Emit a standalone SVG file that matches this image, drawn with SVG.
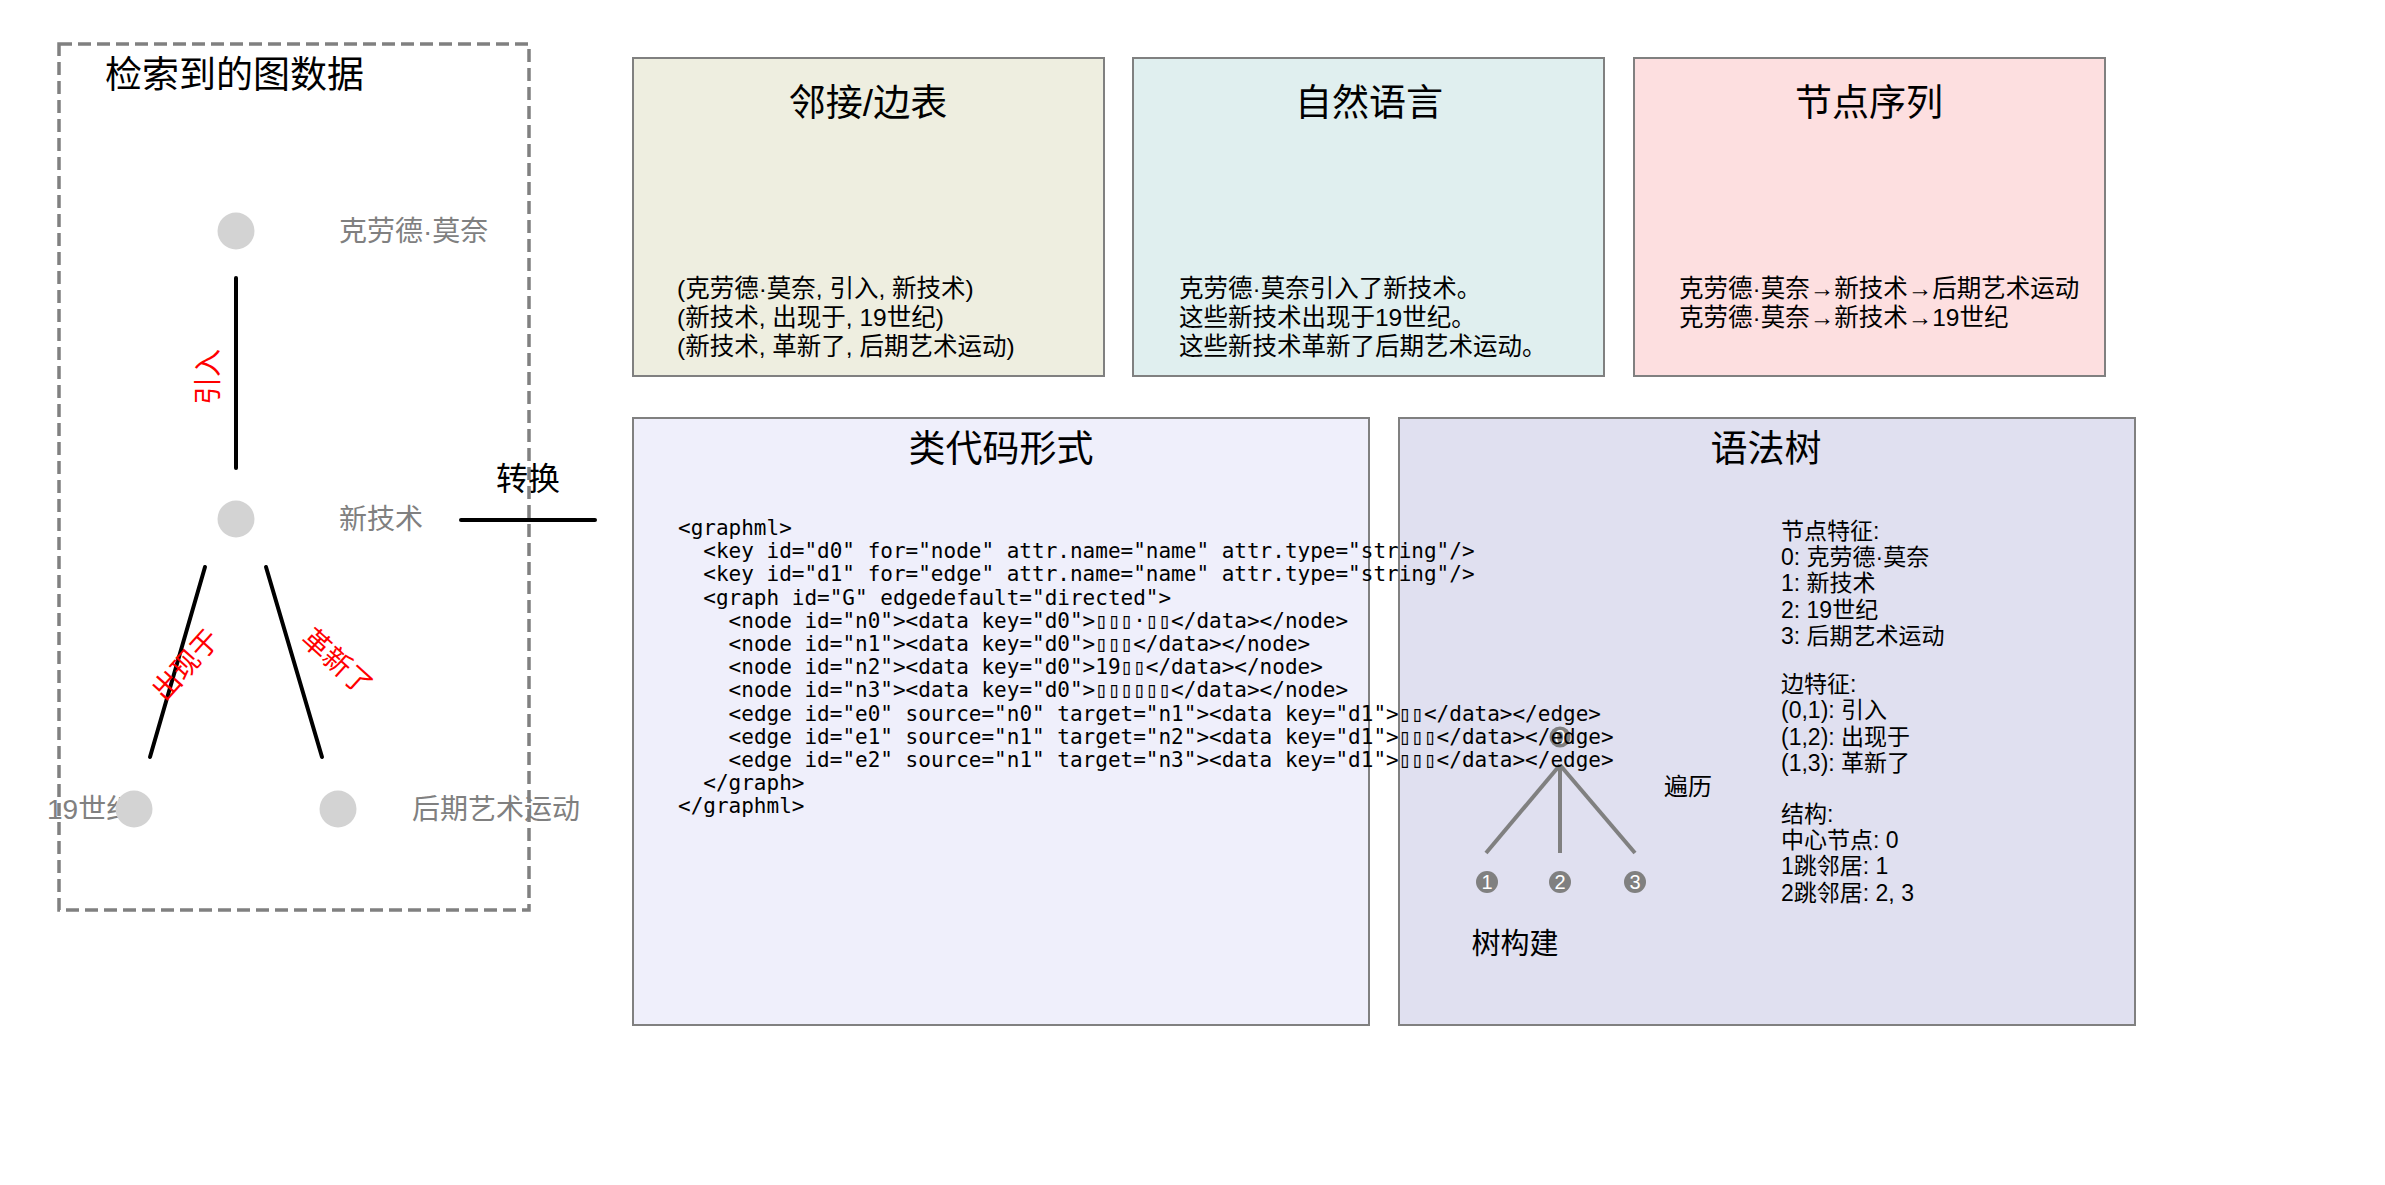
<svg xmlns="http://www.w3.org/2000/svg" width="2385" height="1185" viewBox="0 0 2385 1185">
<style>
.cjk{font-family:"Liberation Sans","Noto Sans CJK SC",sans-serif}
.title{font-size:37px;fill:#000;text-anchor:middle}
.body{font-size:24.5px;fill:#000}
.feat{font-size:23px;fill:#000}
.nlabel{font-size:28px;fill:#808080}
.elabel{font-size:28px;fill:#ff0000;text-anchor:middle;dominant-baseline:central}
.code{font-family:"DejaVu Sans Mono","Liberation Mono",monospace;font-size:21px;fill:#000}
.box{stroke:#808080;stroke-width:2}
.gnode{fill:#d3d3d3}
.edge{stroke:#000;stroke-width:4;stroke-linecap:round;fill:none}
.tedge{stroke:#808080;stroke-width:4;fill:none}
.tnode{fill:#808080}
.tnum{font-family:"Liberation Sans","Noto Sans",sans-serif;font-size:20px;fill:#fff;text-anchor:middle;dominant-baseline:central}
</style>
<rect width="2385" height="1185" fill="#fff"/>

<g id="connectors">
  <line class="edge" x1="236" y1="278" x2="236" y2="468"/>
  <line class="edge" x1="205" y1="567" x2="150" y2="757"/>
  <line class="edge" x1="266" y1="567" x2="322" y2="757"/>
  <line class="edge" x1="461" y1="520" x2="595" y2="520"/>
  <text class="cjk elabel" transform="translate(208,377) rotate(-90)">引入</text>
  <text class="cjk elabel" transform="translate(186,665) rotate(-48)">出现于</text>
  <text class="cjk elabel" transform="translate(337,662) rotate(42)">革新了</text>
  <text class="cjk" x="528" y="490" font-size="32" text-anchor="middle">转换</text>
</g>

<g id="graph-nodes">
  <g id="n-monet">
    <text class="cjk nlabel" x="339" y="241">克劳德·莫奈</text>
    <circle class="gnode" cx="236" cy="231" r="18.5"/>
  </g>
  <g id="n-tech">
    <text class="cjk nlabel" x="339" y="529">新技术</text>
    <circle class="gnode" cx="236" cy="519" r="18.5"/>
  </g>
  <g id="n-19c">
    <text class="cjk nlabel" x="47" y="819">19世纪</text>
    <circle class="gnode" cx="134" cy="809" r="18.5"/>
  </g>
  <g id="n-late">
    <text class="cjk nlabel" x="412" y="819">后期艺术运动</text>
    <circle class="gnode" cx="338" cy="809" r="18.5"/>
  </g>
</g>

<g id="retrieved-panel">
  <rect x="59" y="44" width="470" height="866" fill="none" stroke="#808080" stroke-width="3.5" stroke-dasharray="13 6"/>
  <text class="cjk" x="105" y="88" font-size="37">检索到的图数据</text>
</g>

<g id="box-adjacency">
  <rect class="box" x="633" y="58" width="471" height="318" fill="#EEEEE0"/>
  <text class="cjk title" x="868" y="116">邻接/边表</text>
  <text class="cjk body" x="677" y="297">(克劳德·莫奈, 引入, 新技术)</text>
  <text class="cjk body" x="677" y="326">(新技术, 出现于, 19世纪)</text>
  <text class="cjk body" x="677" y="355">(新技术, 革新了, 后期艺术运动)</text>
</g>

<g id="box-natural">
  <rect class="box" x="1133" y="58" width="471" height="318" fill="#E0EFEF"/>
  <text class="cjk title" x="1369" y="116">自然语言</text>
  <text class="cjk body" x="1179" y="297">克劳德·莫奈引入了新技术。</text>
  <text class="cjk body" x="1179" y="326">这些新技术出现于19世纪。</text>
  <text class="cjk body" x="1179" y="355">这些新技术革新了后期艺术运动。</text>
</g>

<g id="box-sequence">
  <rect class="box" x="1634" y="58" width="471" height="318" fill="#FDDFE0"/>
  <text class="cjk title" x="1869" y="116">节点序列</text>
  <text class="cjk body" x="1679" y="297">克劳德·莫奈→新技术→后期艺术运动</text>
  <text class="cjk body" x="1679" y="326">克劳德·莫奈→新技术→19世纪</text>
</g>

<g id="box-code-bg">
  <rect class="box" x="633" y="418" width="736" height="607" fill="#EFEFFB"/>
  <text class="cjk title" x="1001" y="462">类代码形式</text>
</g>

<g id="box-tree">
  <rect class="box" x="1399" y="418" width="736" height="607" fill="#E0E0F0"/>
  <text class="cjk title" x="1766" y="462">语法树</text>
  <g id="tree-edges">
    <line class="tedge" x1="1560" y1="765" x2="1486" y2="853"/>
    <line class="tedge" x1="1560" y1="765" x2="1560" y2="853"/>
    <line class="tedge" x1="1560" y1="765" x2="1635" y2="853"/>
  </g>
  <g id="t0"><circle class="tnode" cx="1560" cy="737" r="10.5"/><text class="tnum" x="1560" y="737">0</text></g>
  <g id="t1"><circle class="tnode" cx="1487" cy="882" r="11"/><text class="tnum" x="1487" y="882">1</text></g>
  <g id="t2"><circle class="tnode" cx="1560" cy="882" r="11"/><text class="tnum" x="1560" y="882">2</text></g>
  <g id="t3"><circle class="tnode" cx="1635" cy="882" r="11"/><text class="tnum" x="1635" y="882">3</text></g>
  <text class="cjk" x="1688" y="795" font-size="24" text-anchor="middle">遍历</text>
  <text class="cjk" x="1515" y="954" font-size="29" text-anchor="middle">树构建</text>
  <text class="cjk feat" x="1781" y="539">节点特征:</text>
  <text class="cjk feat" x="1781" y="565">0: 克劳德·莫奈</text>
  <text class="cjk feat" x="1781" y="591">1: 新技术</text>
  <text class="cjk feat" x="1781" y="618">2: 19世纪</text>
  <text class="cjk feat" x="1781" y="644">3: 后期艺术运动</text>
  <text class="cjk feat" x="1781" y="692">边特征:</text>
  <text class="cjk feat" x="1781" y="718">(0,1): 引入</text>
  <text class="cjk feat" x="1781" y="745">(1,2): 出现于</text>
  <text class="cjk feat" x="1781" y="771">(1,3): 革新了</text>
  <text class="cjk feat" x="1781" y="822">结构:</text>
  <text class="cjk feat" x="1781" y="848">中心节点: 0</text>
  <text class="cjk feat" x="1781" y="874">1跳邻居: 1</text>
  <text class="cjk feat" x="1781" y="901">2跳邻居: 2, 3</text>
</g>

<g id="box-code-text" class="code">
  <text x="678" y="535">&lt;graphml&gt;</text>
  <text x="703.3" y="558.2">&lt;key id="d0" for="node" attr.name="name" attr.type="string"/&gt;</text>
  <text x="703.3" y="581.4">&lt;key id="d1" for="edge" attr.name="name" attr.type="string"/&gt;</text>
  <text x="703.3" y="604.6">&lt;graph id="G" edgedefault="directed"&gt;</text>
  <text x="728.6" y="627.8">&lt;node id="n0"&gt;&lt;data key="d0"&gt;▯▯▯·▯▯&lt;/data&gt;&lt;/node&gt;</text>
  <text x="728.6" y="651">&lt;node id="n1"&gt;&lt;data key="d0"&gt;▯▯▯&lt;/data&gt;&lt;/node&gt;</text>
  <text x="728.6" y="674.2">&lt;node id="n2"&gt;&lt;data key="d0"&gt;19▯▯&lt;/data&gt;&lt;/node&gt;</text>
  <text x="728.6" y="697.4">&lt;node id="n3"&gt;&lt;data key="d0"&gt;▯▯▯▯▯▯&lt;/data&gt;&lt;/node&gt;</text>
  <text x="728.6" y="720.6">&lt;edge id="e0" source="n0" target="n1"&gt;&lt;data key="d1"&gt;▯▯&lt;/data&gt;&lt;/edge&gt;</text>
  <text x="728.6" y="743.8">&lt;edge id="e1" source="n1" target="n2"&gt;&lt;data key="d1"&gt;▯▯▯&lt;/data&gt;&lt;/edge&gt;</text>
  <text x="728.6" y="767">&lt;edge id="e2" source="n1" target="n3"&gt;&lt;data key="d1"&gt;▯▯▯&lt;/data&gt;&lt;/edge&gt;</text>
  <text x="703.3" y="790.2">&lt;/graph&gt;</text>
  <text x="678" y="813.4">&lt;/graphml&gt;</text>
</g>
</svg>
